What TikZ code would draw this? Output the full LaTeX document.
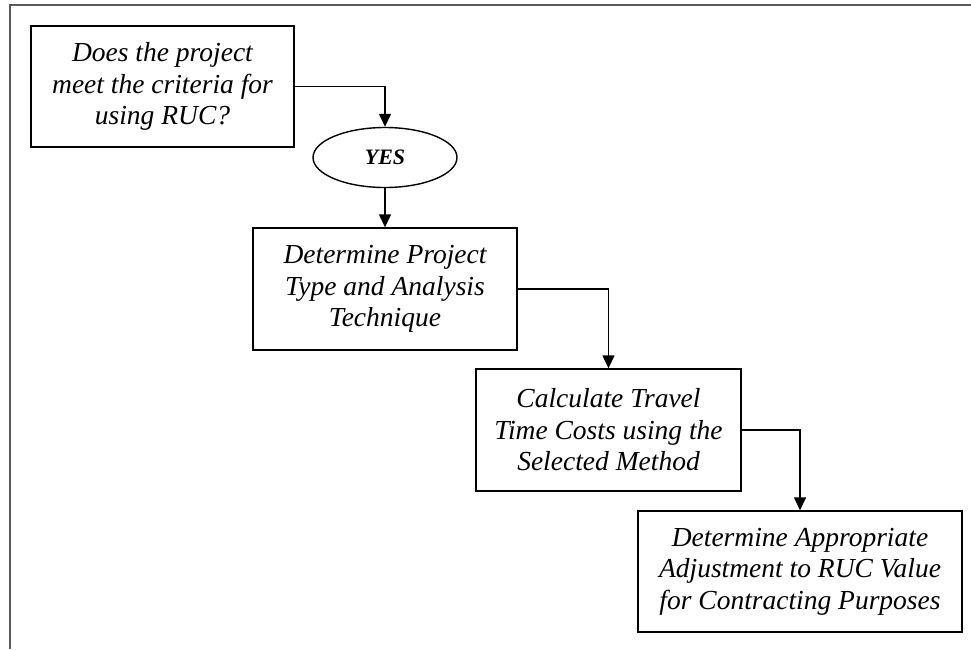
\documentclass[tikz,border=0pt]{standalone}
\usepackage{fontspec}
\setmainfont{Liberation Serif}
\usepackage{tikz}
\usetikzlibrary{positioning,arrows.meta,shapes.geometric}

\begin{document}
\begin{tikzpicture}[x=1pt,y=-1pt,
	stepbox/.style={draw, line width=1.4pt, align=center, inner sep=0pt,
		font=\fontsize{27.5}{31.5}\selectfont\itshape},
	answer/.style={draw, ellipse, line width=1.4pt, inner sep=0pt,
		minimum width=144pt, minimum height=60pt,
		font=\fontsize{22}{26}\selectfont\bfseries\itshape},
	link/.style={line width=1.4pt, -{Triangle[length=13pt,width=12pt]}}]
	\useasboundingbox (0,0) rectangle (971,649);
	%%%frame
	\draw[line width=1.5pt, gray!70!black] (10,649) -- (10,5) -- (971,5);
	%%%nodes
	%question
	\node[stepbox, minimum width=263pt, minimum height=121pt] at (162.5,86.5) (Q){Does the project\\meet the criteria for\\using RUC?};
	\node[answer] at (385,157.5) (Y){YES};
	%steps
	\node[stepbox, minimum width=264pt, minimum height=122pt] at (385,289) (S1){Determine Project\\Type and Analysis\\Technique};
	\node[stepbox, minimum width=265pt, minimum height=122pt] at (608.5,430) (S2){Calculate Travel\\Time Costs using the\\Selected Method};
	\node[stepbox, minimum width=324pt, minimum height=121pt] at (800,571.5) (S3){Determine Appropriate\\Adjustment to RUC Value\\for Contracting Purposes};
	%%%links
	\draw[link] (Q.east) -| (Y.north);
	\draw[link] (Y) -- (S1);
	\draw[link] (S1.east) -| (S2.north);
	\draw[link] (S2.east) -| (S3.north);
\end{tikzpicture}
\end{document}
